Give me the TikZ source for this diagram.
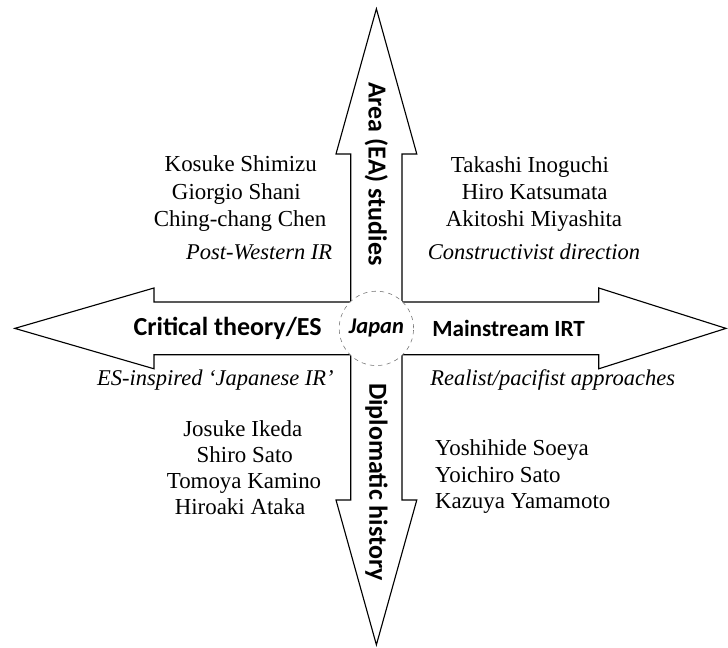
\documentclass[tikz,border=0pt]{standalone}
\usepackage{fontspec}
\setmainfont{Liberation Serif}
\newfontfamily\labelfont{Carlito}
\usepackage{tikz}
\usetikzlibrary{calc}
\usepackage{xcolor}
\definecolor{circleGray}{rgb}{0.45,0.45,0.45}
\tikzset{
  scholar/.style={font=\fontsize{16.3}{19}\selectfont, inner sep=0pt, text height=1.6ex, text depth=0.5ex},
  approach/.style={font=\fontsize{16}{19}\selectfont\itshape, inner sep=0pt, text height=1.6ex, text depth=0.5ex},
  axis label/.style={font=\labelfont\bfseries\fontsize{18.5}{21}\selectfont, inner sep=0pt},
}

\begin{document}
\begin{tikzpicture}

%%%%%%%%%%%%%%%%%%%%%%%%%%%%%%%%%%%%%%%%%%%%%%%%%%%%%%%%%%%%%% Setup
\coordinate (C) at (0, 0);
% just to have nice boundaries to the picture
\useasboundingbox ($(C)+(-9.41,-7.99)$) rectangle ($(C)+(8.79,8.21)$);

%%%%%%%%%%%%%%%%%%%%%%%%%%%%%%%%%%%%%%%%%%%%%%%%%%%%%%%%%%%%%% Cross of arrows
\draw[line width=0.8pt, black, line join=miter]
  ($(C)+(0,7.99)$) -- ($(C)+(1.01,4.36)$) -- ($(C)+(0.64,4.36)$) -- ($(C)+(0.64,0.66)$)
  -- ($(C)+(5.56,0.66)$) -- ($(C)+(5.56,1.01)$) -- ($(C)+(8.74,0)$) -- ($(C)+(5.56,-1.01)$)
  -- ($(C)+(5.56,-0.66)$) -- ($(C)+(0.64,-0.66)$) -- ($(C)+(0.64,-4.29)$) -- ($(C)+(1.01,-4.29)$)
  -- ($(C)+(0,-7.91)$) -- ($(C)+(-1.01,-4.29)$) -- ($(C)+(-0.64,-4.29)$) -- ($(C)+(-0.64,-0.66)$)
  -- ($(C)+(-5.56,-0.66)$) -- ($(C)+(-5.56,-1.01)$) -- ($(C)+(-9.04,0)$) -- ($(C)+(-5.56,1.01)$)
  -- ($(C)+(-5.56,0.66)$) -- ($(C)+(-0.64,0.66)$) -- ($(C)+(-0.64,4.36)$) -- ($(C)+(-1.01,4.36)$)
  -- cycle;

\node[circle, draw=circleGray, dashed, thin, fill=white, minimum size=1.86cm, inner sep=0pt,
  font=\labelfont\bfseries\itshape\fontsize{16}{18}\selectfont] (japan) at ($(C)$) {Japan};

%%%%%%%%%%%%%%%%%%%%%%%%%%%%%%%%%%%%%%%%%%%%%%%%%%%%%%%%%%%%%% Axis labels
\node[axis label, rotate=-90, anchor=east] (area) at ($(C)+(0,1.56)$) {Area (EA) studies};
\node[axis label, rotate=-90, anchor=west] (diplo) at ($(C)+(0,-1.36)$) {Diplomatic history};
\node[axis label, anchor=east] (critical) at ($(C)+(-1.36,0)$) {Critical theory/ES};
\node[axis label, anchor=west, font=\labelfont\bfseries\fontsize{16.5}{20}\selectfont] (mainstream) at ($(C)+(1.39,0)$) {Mainstream IRT};

%%%%%%%%%%%%%%%%%%%%%%%%%%%%%%%%%%%%%%%%%%%%%%%%%%%%%%%%%%%%%% Upper left
\node[scholar] (shimizu) at ($(C)+(-3.39,4.00)$) {Kosuke Shimizu};
\node[scholar] (shani) at ($(C)+(-3.50,3.32)$) {Giorgio Shani};
\node[scholar] (chen) at ($(C)+(-3.41,2.64)$) {Ching-chang Chen};
\node[approach, anchor=east] (postwestern) at ($(C)+(-1.10,1.80)$) {Post-Western IR};

%%%%%%%%%%%%%%%%%%%%%%%%%%%%%%%%%%%%%%%%%%%%%%%%%%%%%%%%%%%%%% Upper right
\node[scholar] (inoguchi) at ($(C)+(3.84,3.98)$) {Takashi Inoguchi};
\node[scholar] (katsumata) at ($(C)+(3.96,3.31)$) {Hiro Katsumata};
\node[scholar] (miyashita) at ($(C)+(3.94,2.64)$) {Akitoshi Miyashita};
\node[approach] (constructivist) at ($(C)+(3.94,1.80)$) {Constructivist direction};

%%%%%%%%%%%%%%%%%%%%%%%%%%%%%%%%%%%%%%%%%%%%%%%%%%%%%%%%%%%%%% Lower left
\node[approach, anchor=east] (esinspired) at ($(C)+(-1.06,-1.33)$) {ES-inspired `Japanese IR'};
\node[scholar] (ikeda) at ($(C)+(-3.34,-2.61)$) {Josuke Ikeda};
\node[scholar] (ssato) at ($(C)+(-3.29,-3.26)$) {Shiro Sato};
\node[scholar] (kamino) at ($(C)+(-3.31,-3.91)$) {Tomoya Kamino};
\node[scholar] (ataka) at ($(C)+(-3.41,-4.56)$) {Hiroaki Ataka};

%%%%%%%%%%%%%%%%%%%%%%%%%%%%%%%%%%%%%%%%%%%%%%%%%%%%%%%%%%%%%% Lower right
\node[approach, anchor=west] (realist) at ($(C)+(1.34,-1.33)$) {Realist/pacifist approaches};
\node[scholar, anchor=west] (soeya) at ($(C)+(1.46,-3.10)$) {Yoshihide Soeya};
\node[scholar, anchor=west] (ysato) at ($(C)+(1.46,-3.76)$) {Yoichiro Sato};
\node[scholar, anchor=west] (yamamoto) at ($(C)+(1.46,-4.42)$) {Kazuya Yamamoto};

\end{tikzpicture}
\end{document}
